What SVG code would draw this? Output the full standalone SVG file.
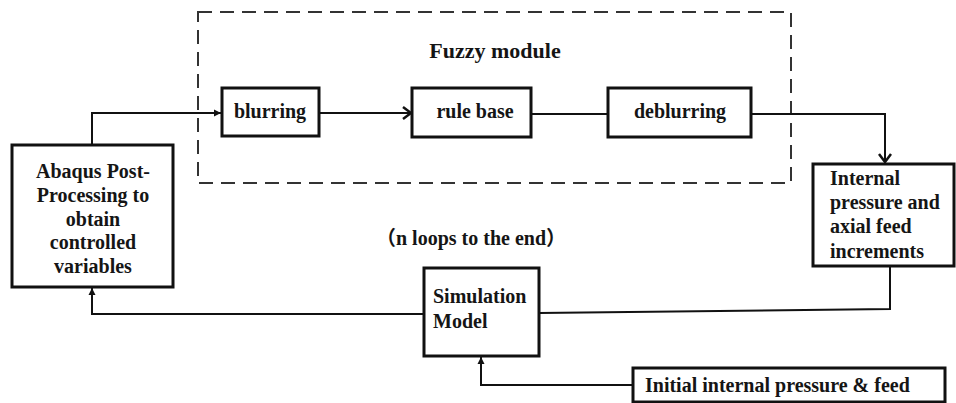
<svg xmlns="http://www.w3.org/2000/svg" width="956" height="403" viewBox="0 0 956 403">
  <defs>
    <style>
      .box { fill: #fff; stroke: #111; stroke-width: 3; }
      .wire { fill: none; stroke: #111; stroke-width: 2; }
      .frame { fill: none; stroke: #333; stroke-width: 2; stroke-dasharray: 14 8; }
      text { font-family: "Liberation Serif", "Times New Roman", serif; font-weight: bold; font-size: 20px; fill: #151515; }
      .mid { text-anchor: middle; }
      .cjk { font-family: "Liberation Serif", "Noto Sans CJK SC", serif; }
    </style>
    <marker id="tri" markerWidth="8" markerHeight="8" refX="7" refY="4" orient="auto" markerUnits="userSpaceOnUse">
      <path d="M0,0.5 L7,4 L0,7.5 Z" fill="#111"/>
    </marker>
    <marker id="chev" markerWidth="12" markerHeight="14" refX="10" refY="7" orient="auto" markerUnits="userSpaceOnUse">
      <path d="M2,1 L10,7 L2,13" fill="none" stroke="#111" stroke-width="2.5"/>
    </marker>
  </defs>

  <rect width="956" height="403" fill="#fff"/>

  <!-- fuzzy module frame -->
  <g id="fuzzy-module">
    <rect class="frame" x="198" y="12" width="593" height="171"/>
    <text class="mid" x="495" y="58" style="font-size:22px">Fuzzy module</text>
  </g>

  <!-- connectors -->
  <g id="connectors">
    <polyline class="wire" points="92,145 92,113 221,113" marker-end="url(#tri)"/>
    <line class="wire" x1="319" y1="113" x2="411" y2="113" marker-end="url(#chev)"/>
    <line class="wire" x1="531" y1="114" x2="608" y2="114"/>
    <polyline class="wire" points="751,114 885,114 885,162" marker-end="url(#chev)"/>
    <polyline class="wire" points="890,266 890,309 539,313"/>
    <polyline class="wire" points="424,314 92,314 92,288" marker-end="url(#tri)"/>
    <polyline class="wire" points="633,385 481,385 481,357" marker-end="url(#tri)"/>
  </g>

  <g id="blurring">
    <rect class="box" x="222" y="88" width="97" height="48"/>
    <text class="mid" x="270" y="118">blurring</text>
  </g>

  <g id="rule-base">
    <rect class="box" x="412" y="88" width="119" height="49"/>
    <text class="mid" x="475" y="118">rule base</text>
  </g>

  <g id="deblurring">
    <rect class="box" x="608" y="88" width="143" height="49"/>
    <text class="mid" x="680" y="118">deblurring</text>
  </g>

  <g id="abaqus">
    <rect class="box" x="12" y="145" width="161" height="142"/>
    <text class="mid" x="93" y="178">Abaqus Post-</text>
    <text class="mid" x="93" y="202">Processing to</text>
    <text class="mid" x="93" y="226">obtain</text>
    <text class="mid" x="93" y="249">controlled</text>
    <text class="mid" x="93" y="273">variables</text>
  </g>

  <g id="increments">
    <rect class="box" x="813" y="164" width="141" height="102"/>
    <text x="830" y="185">Internal</text>
    <text x="830" y="209">pressure and</text>
    <text x="830" y="233">axial feed</text>
    <text x="830" y="258">increments</text>
  </g>

  <g id="loop-note">
    <text class="cjk" x="376" y="245">（n loops to the end）</text>
  </g>

  <g id="simulation">
    <rect class="box" x="424" y="268" width="115" height="88"/>
    <text x="433" y="303">Simulation</text>
    <text x="433" y="328">Model</text>
  </g>

  <g id="initial">
    <rect class="box" x="633" y="368" width="312" height="34"/>
    <text x="645" y="392">Initial internal pressure &amp; feed</text>
  </g>
</svg>
